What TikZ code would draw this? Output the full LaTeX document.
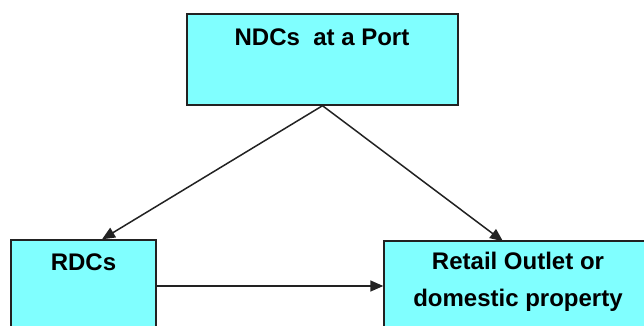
\documentclass[tikz,border=0pt]{standalone}
\usepackage{fontspec}
\setmainfont{Liberation Sans}
\usetikzlibrary{arrows.meta}
\definecolor{boxcyan}{HTML}{80FFFF}
\definecolor{edge}{HTML}{222222}
\begin{document}
\begin{tikzpicture}[x=1pt,y=-1pt,
  box/.style={draw=edge,line width=1.4pt,fill=boxcyan,inner sep=0pt},
  lbl/.style={font=\bfseries\fontsize{24}{37}\selectfont,align=center,inner sep=0pt},
  conn/.style={draw=edge,line width=1.5pt,-{Triangle[length=13pt,width=11pt]}}]
\useasboundingbox (0,0) rectangle (644,325);
\node[box,minimum width=271pt,minimum height=91pt] (ndc) at (322.5,59.5) {};
\node[box,minimum width=145pt,minimum height=92pt] (rdc) at (83.5,286) {};
\node[box,minimum width=268pt,minimum height=90pt] (ret) at (518,286) {};
\node[lbl] (ndct) at (322,37) {NDCs\ \ at a Port};
\node[lbl] (rdct) at (83.5,262) {RDCs};
\node[lbl] (rett) at (518,281.5) {Retail Outlet or\\domestic property};
\draw[conn] (ndc.south) -- ([xshift=18.5pt]rdc.north);
\draw[conn] (ndc.south) -- ([xshift=-15pt,yshift=-1pt]ret.north);
\draw[conn] (rdc.east) -- (ret.west);
\end{tikzpicture}
\end{document}
